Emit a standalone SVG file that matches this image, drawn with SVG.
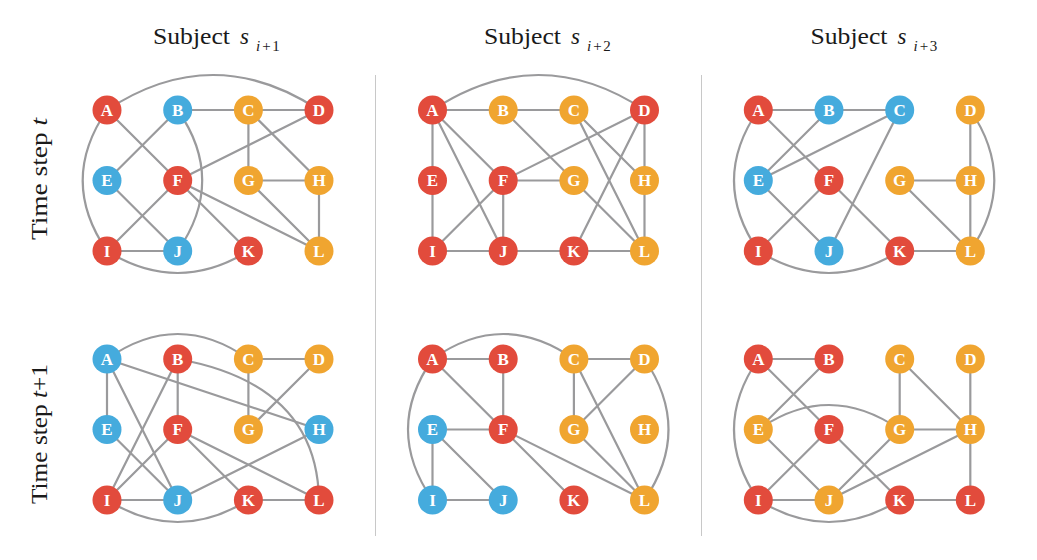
<svg xmlns="http://www.w3.org/2000/svg" width="1037" height="560" viewBox="0 0 1037 560">
<style>
.bg{fill:#fff}
.sep{stroke:#c8c8c8;stroke-width:1;fill:none}
.edges path{stroke:#9a9a9c;stroke-width:2.2;fill:none;stroke-linecap:round}
.n circle{stroke:none}
.n text{fill:#fff;font-family:"Liberation Serif","DejaVu Serif",serif;font-weight:bold;font-size:17px;text-anchor:middle}
.r circle{fill:#e24b3c}
.b circle{fill:#45abdd}
.o circle{fill:#f0a530}
.hd{font-family:"Liberation Serif","DejaVu Serif",serif;fill:#1a1a1a;font-size:23px}
.it{font-style:italic}
.sub{font-size:15px}
</style>
<rect class="bg" x="0" y="0" width="1037" height="560"/>

<g id="separators">
<line class="sep" x1="375.5" y1="75" x2="375.5" y2="536"/>
<line class="sep" x1="701.5" y1="75" x2="701.5" y2="536"/>
</g>

<g id="headers">
<text class="hd" x="153" y="43.5" textLength="77" lengthAdjust="spacingAndGlyphs">Subject</text>
<text class="hd it" x="240" y="43.5">s</text>
<text class="hd sub" x="256" y="50.5"><tspan class="it">i</tspan><tspan dx="2">+</tspan><tspan dx="1.5">1</tspan></text>
<text class="hd" x="484" y="43.5" textLength="77" lengthAdjust="spacingAndGlyphs">Subject</text>
<text class="hd it" x="571" y="43.5">s</text>
<text class="hd sub" x="587" y="50.5"><tspan class="it">i</tspan><tspan dx="2">+</tspan><tspan dx="1.5">2</tspan></text>
<text class="hd" x="810.5" y="43.5" textLength="77" lengthAdjust="spacingAndGlyphs">Subject</text>
<text class="hd it" x="897.5" y="43.5">s</text>
<text class="hd sub" x="913.5" y="50.5"><tspan class="it">i</tspan><tspan dx="2">+</tspan><tspan dx="1.5">3</tspan></text>
<text class="hd" transform="translate(47,179) rotate(-90)" text-anchor="middle" textLength="122" lengthAdjust="spacingAndGlyphs">Time step <tspan class="it">t</tspan></text>
<text class="hd" transform="translate(47,434) rotate(-90)" text-anchor="middle" textLength="140" lengthAdjust="spacingAndGlyphs">Time step <tspan class="it">t</tspan>+1</text>
</g>

<!-- Panel 1 -->
<g id="panel1" transform="translate(107,110)">
<g id="p1-edges" class="edges">
<path d="M0,0 Q106,-70 212,0"/>
<path d="M70.7,0 L212,0"/>
<path d="M0,0 L70.7,70.5"/>
<path d="M70.7,0 L0,70.5"/>
<path d="M70.7,0 Q119.7,70.5 70.7,141"/>
<path d="M0,0 Q-48.6,70.5 0,141"/>
<path d="M0,70.5 L70.7,141"/>
<path d="M70.7,70.5 L0,141"/>
<path d="M70.7,70.5 L212,0"/>
<path d="M70.7,70.5 L141.4,141"/>
<path d="M70.7,70.5 L212,141"/>
<path d="M141.4,0 L141.4,70.5"/>
<path d="M141.4,0 L212,70.5"/>
<path d="M141.4,70.5 L212,70.5"/>
<path d="M141.4,70.5 L212,141"/>
<path d="M212,70.5 L212,141"/>
<path d="M0,141 L70.7,141"/>
<path d="M0,141 Q70.7,185 141.4,141"/>
</g>
<g id="p1-A" class="n r" transform="translate(0,0)"><circle r="14.5"/><text y="5.8">A</text></g>
<g id="p1-B" class="n b" transform="translate(70.7,0)"><circle r="14.5"/><text y="5.8">B</text></g>
<g id="p1-C" class="n o" transform="translate(141.4,0)"><circle r="14.5"/><text y="5.8">C</text></g>
<g id="p1-D" class="n r" transform="translate(212,0)"><circle r="14.5"/><text y="5.8">D</text></g>
<g id="p1-E" class="n b" transform="translate(0,70.5)"><circle r="14.5"/><text y="5.8">E</text></g>
<g id="p1-F" class="n r" transform="translate(70.7,70.5)"><circle r="14.5"/><text y="5.8">F</text></g>
<g id="p1-G" class="n o" transform="translate(141.4,70.5)"><circle r="14.5"/><text y="5.8">G</text></g>
<g id="p1-H" class="n o" transform="translate(212,70.5)"><circle r="14.5"/><text y="5.8">H</text></g>
<g id="p1-I" class="n r" transform="translate(0,141)"><circle r="14.5"/><text y="5.8">I</text></g>
<g id="p1-J" class="n b" transform="translate(70.7,141)"><circle r="14.5"/><text y="5.8">J</text></g>
<g id="p1-K" class="n r" transform="translate(141.4,141)"><circle r="14.5"/><text y="5.8">K</text></g>
<g id="p1-L" class="n o" transform="translate(212,141)"><circle r="14.5"/><text y="5.8">L</text></g>
</g>

<!-- Panel 2 -->
<g id="panel2" transform="translate(432.5,110)">
<g id="p2-edges" class="edges">
<path d="M0,0 Q106,-70 212,0"/>
<path d="M0,0 L141.4,0"/>
<path d="M0,0 L0,141"/>
<path d="M0,0 L70.7,70.5"/>
<path d="M0,0 L70.7,141"/>
<path d="M70.7,0 L141.4,70.5"/>
<path d="M212,0 L70.7,70.5"/>
<path d="M70.7,70.5 L141.4,70.5"/>
<path d="M70.7,70.5 L0,141"/>
<path d="M70.7,70.5 L70.7,141"/>
<path d="M141.4,0 L212,70.5"/>
<path d="M141.4,0 L212,141"/>
<path d="M212,0 L212,141"/>
<path d="M212,0 L141.4,141"/>
<path d="M141.4,70.5 L212,141"/>
<path d="M0,141 L212,141"/>
</g>
<g id="p2-A" class="n r" transform="translate(0,0)"><circle r="14.5"/><text y="5.8">A</text></g>
<g id="p2-B" class="n o" transform="translate(70.7,0)"><circle r="14.5"/><text y="5.8">B</text></g>
<g id="p2-C" class="n o" transform="translate(141.4,0)"><circle r="14.5"/><text y="5.8">C</text></g>
<g id="p2-D" class="n r" transform="translate(212,0)"><circle r="14.5"/><text y="5.8">D</text></g>
<g id="p2-E" class="n r" transform="translate(0,70.5)"><circle r="14.5"/><text y="5.8">E</text></g>
<g id="p2-F" class="n r" transform="translate(70.7,70.5)"><circle r="14.5"/><text y="5.8">F</text></g>
<g id="p2-G" class="n o" transform="translate(141.4,70.5)"><circle r="14.5"/><text y="5.8">G</text></g>
<g id="p2-H" class="n o" transform="translate(212,70.5)"><circle r="14.5"/><text y="5.8">H</text></g>
<g id="p2-I" class="n r" transform="translate(0,141)"><circle r="14.5"/><text y="5.8">I</text></g>
<g id="p2-J" class="n r" transform="translate(70.7,141)"><circle r="14.5"/><text y="5.8">J</text></g>
<g id="p2-K" class="n r" transform="translate(141.4,141)"><circle r="14.5"/><text y="5.8">K</text></g>
<g id="p2-L" class="n o" transform="translate(212,141)"><circle r="14.5"/><text y="5.8">L</text></g>
</g>

<!-- Panel 3 -->
<g id="panel3" transform="translate(758.3,110)">
<g id="p3-edges" class="edges">
<path d="M0,0 L141.4,0"/>
<path d="M0,0 L70.7,70.5"/>
<path d="M70.7,0 L0,70.5"/>
<path d="M141.4,0 L0,70.5"/>
<path d="M141.4,0 L70.7,141"/>
<path d="M0,0 Q-48.6,70.5 0,141"/>
<path d="M0,70.5 L70.7,141"/>
<path d="M70.7,70.5 L0,141"/>
<path d="M70.7,70.5 L141.4,141"/>
<path d="M0,141 Q70.7,185 141.4,141"/>
<path d="M141.4,141 L212,141"/>
<path d="M212,0 L212,141"/>
<path d="M212,0 Q260,70.5 212,141"/>
<path d="M141.4,70.5 L212,70.5"/>
<path d="M141.4,70.5 L212,141"/>
</g>
<g id="p3-A" class="n r" transform="translate(0,0)"><circle r="14.5"/><text y="5.8">A</text></g>
<g id="p3-B" class="n b" transform="translate(70.7,0)"><circle r="14.5"/><text y="5.8">B</text></g>
<g id="p3-C" class="n b" transform="translate(141.4,0)"><circle r="14.5"/><text y="5.8">C</text></g>
<g id="p3-D" class="n o" transform="translate(212,0)"><circle r="14.5"/><text y="5.8">D</text></g>
<g id="p3-E" class="n b" transform="translate(0,70.5)"><circle r="14.5"/><text y="5.8">E</text></g>
<g id="p3-F" class="n r" transform="translate(70.7,70.5)"><circle r="14.5"/><text y="5.8">F</text></g>
<g id="p3-G" class="n o" transform="translate(141.4,70.5)"><circle r="14.5"/><text y="5.8">G</text></g>
<g id="p3-H" class="n o" transform="translate(212,70.5)"><circle r="14.5"/><text y="5.8">H</text></g>
<g id="p3-I" class="n r" transform="translate(0,141)"><circle r="14.5"/><text y="5.8">I</text></g>
<g id="p3-J" class="n b" transform="translate(70.7,141)"><circle r="14.5"/><text y="5.8">J</text></g>
<g id="p3-K" class="n r" transform="translate(141.4,141)"><circle r="14.5"/><text y="5.8">K</text></g>
<g id="p3-L" class="n o" transform="translate(212,141)"><circle r="14.5"/><text y="5.8">L</text></g>
</g>

<!-- Panel 4 -->
<g id="panel4" transform="translate(107,359)">
<g id="p4-edges" class="edges">
<path d="M0,0 Q70.7,-50 141.4,0"/>
<path d="M0,0 L0,70.5"/>
<path d="M0,0 L70.7,141"/>
<path d="M0,0 L212,70.5"/>
<path d="M70.7,0 L70.7,70.5"/>
<path d="M70.7,0 L0,141"/>
<path d="M70.7,0 Q210,25 212,141"/>
<path d="M141.4,0 L212,0"/>
<path d="M141.4,0 L141.4,70.5"/>
<path d="M212,0 L141.4,70.5"/>
<path d="M0,70.5 L70.7,141"/>
<path d="M70.7,70.5 L0,141"/>
<path d="M70.7,70.5 L141.4,141"/>
<path d="M70.7,70.5 L212,141"/>
<path d="M212,70.5 L70.7,141"/>
<path d="M0,141 L70.7,141"/>
<path d="M0,141 Q70.7,185 141.4,141"/>
<path d="M141.4,141 L212,141"/>
</g>
<g id="p4-A" class="n b" transform="translate(0,0)"><circle r="14.5"/><text y="5.8">A</text></g>
<g id="p4-B" class="n r" transform="translate(70.7,0)"><circle r="14.5"/><text y="5.8">B</text></g>
<g id="p4-C" class="n o" transform="translate(141.4,0)"><circle r="14.5"/><text y="5.8">C</text></g>
<g id="p4-D" class="n o" transform="translate(212,0)"><circle r="14.5"/><text y="5.8">D</text></g>
<g id="p4-E" class="n b" transform="translate(0,70.5)"><circle r="14.5"/><text y="5.8">E</text></g>
<g id="p4-F" class="n r" transform="translate(70.7,70.5)"><circle r="14.5"/><text y="5.8">F</text></g>
<g id="p4-G" class="n o" transform="translate(141.4,70.5)"><circle r="14.5"/><text y="5.8">G</text></g>
<g id="p4-H" class="n b" transform="translate(212,70.5)"><circle r="14.5"/><text y="5.8">H</text></g>
<g id="p4-I" class="n r" transform="translate(0,141)"><circle r="14.5"/><text y="5.8">I</text></g>
<g id="p4-J" class="n b" transform="translate(70.7,141)"><circle r="14.5"/><text y="5.8">J</text></g>
<g id="p4-K" class="n r" transform="translate(141.4,141)"><circle r="14.5"/><text y="5.8">K</text></g>
<g id="p4-L" class="n r" transform="translate(212,141)"><circle r="14.5"/><text y="5.8">L</text></g>
</g>

<!-- Panel 5 -->
<g id="panel5" transform="translate(432.5,359)">
<g id="p5-edges" class="edges">
<path d="M0,0 Q70.7,-50 141.4,0"/>
<path d="M0,0 L70.7,0"/>
<path d="M0,0 L70.7,70.5"/>
<path d="M0,0 Q-49,70.5 0,141"/>
<path d="M70.7,0 L70.7,70.5"/>
<path d="M0,70.5 L70.7,70.5"/>
<path d="M0,70.5 L0,141"/>
<path d="M0,70.5 L70.7,141"/>
<path d="M0,141 L70.7,141"/>
<path d="M70.7,70.5 L141.4,141"/>
<path d="M70.7,70.5 L212,141"/>
<path d="M141.4,0 L212,0"/>
<path d="M141.4,0 L141.4,70.5"/>
<path d="M141.4,0 L212,141"/>
<path d="M212,0 L141.4,70.5"/>
<path d="M141.4,70.5 L212,141"/>
<path d="M212,0 Q260,70.5 212,141"/>
</g>
<g id="p5-A" class="n r" transform="translate(0,0)"><circle r="14.5"/><text y="5.8">A</text></g>
<g id="p5-B" class="n r" transform="translate(70.7,0)"><circle r="14.5"/><text y="5.8">B</text></g>
<g id="p5-C" class="n o" transform="translate(141.4,0)"><circle r="14.5"/><text y="5.8">C</text></g>
<g id="p5-D" class="n o" transform="translate(212,0)"><circle r="14.5"/><text y="5.8">D</text></g>
<g id="p5-E" class="n b" transform="translate(0,70.5)"><circle r="14.5"/><text y="5.8">E</text></g>
<g id="p5-F" class="n r" transform="translate(70.7,70.5)"><circle r="14.5"/><text y="5.8">F</text></g>
<g id="p5-G" class="n o" transform="translate(141.4,70.5)"><circle r="14.5"/><text y="5.8">G</text></g>
<g id="p5-H" class="n o" transform="translate(212,70.5)"><circle r="14.5"/><text y="5.8">H</text></g>
<g id="p5-I" class="n b" transform="translate(0,141)"><circle r="14.5"/><text y="5.8">I</text></g>
<g id="p5-J" class="n b" transform="translate(70.7,141)"><circle r="14.5"/><text y="5.8">J</text></g>
<g id="p5-K" class="n r" transform="translate(141.4,141)"><circle r="14.5"/><text y="5.8">K</text></g>
<g id="p5-L" class="n o" transform="translate(212,141)"><circle r="14.5"/><text y="5.8">L</text></g>
</g>

<!-- Panel 6 -->
<g id="panel6" transform="translate(758.3,359)">
<g id="p6-edges" class="edges">
<path d="M0,0 L70.7,0"/>
<path d="M0,0 L70.7,70.5"/>
<path d="M70.7,0 L0,70.5"/>
<path d="M0,0 Q-48.6,70.5 0,141"/>
<path d="M0,70.5 Q70.7,21.5 141.4,70.5"/>
<path d="M0,70.5 L70.7,141"/>
<path d="M70.7,70.5 L0,141"/>
<path d="M70.7,70.5 L141.4,141"/>
<path d="M0,141 L70.7,141"/>
<path d="M0,141 Q70.7,185 141.4,141"/>
<path d="M141.4,0 L141.4,70.5"/>
<path d="M141.4,0 L212,70.5"/>
<path d="M141.4,70.5 L212,70.5"/>
<path d="M212,0 L212,141"/>
<path d="M141.4,70.5 L70.7,141"/>
<path d="M212,70.5 L70.7,141"/>
<path d="M141.4,141 L212,141"/>
</g>
<g id="p6-A" class="n r" transform="translate(0,0)"><circle r="14.5"/><text y="5.8">A</text></g>
<g id="p6-B" class="n r" transform="translate(70.7,0)"><circle r="14.5"/><text y="5.8">B</text></g>
<g id="p6-C" class="n o" transform="translate(141.4,0)"><circle r="14.5"/><text y="5.8">C</text></g>
<g id="p6-D" class="n o" transform="translate(212,0)"><circle r="14.5"/><text y="5.8">D</text></g>
<g id="p6-E" class="n o" transform="translate(0,70.5)"><circle r="14.5"/><text y="5.8">E</text></g>
<g id="p6-F" class="n r" transform="translate(70.7,70.5)"><circle r="14.5"/><text y="5.8">F</text></g>
<g id="p6-G" class="n o" transform="translate(141.4,70.5)"><circle r="14.5"/><text y="5.8">G</text></g>
<g id="p6-H" class="n o" transform="translate(212,70.5)"><circle r="14.5"/><text y="5.8">H</text></g>
<g id="p6-I" class="n r" transform="translate(0,141)"><circle r="14.5"/><text y="5.8">I</text></g>
<g id="p6-J" class="n o" transform="translate(70.7,141)"><circle r="14.5"/><text y="5.8">J</text></g>
<g id="p6-K" class="n r" transform="translate(141.4,141)"><circle r="14.5"/><text y="5.8">K</text></g>
<g id="p6-L" class="n r" transform="translate(212,141)"><circle r="14.5"/><text y="5.8">L</text></g>
</g>
</svg>
